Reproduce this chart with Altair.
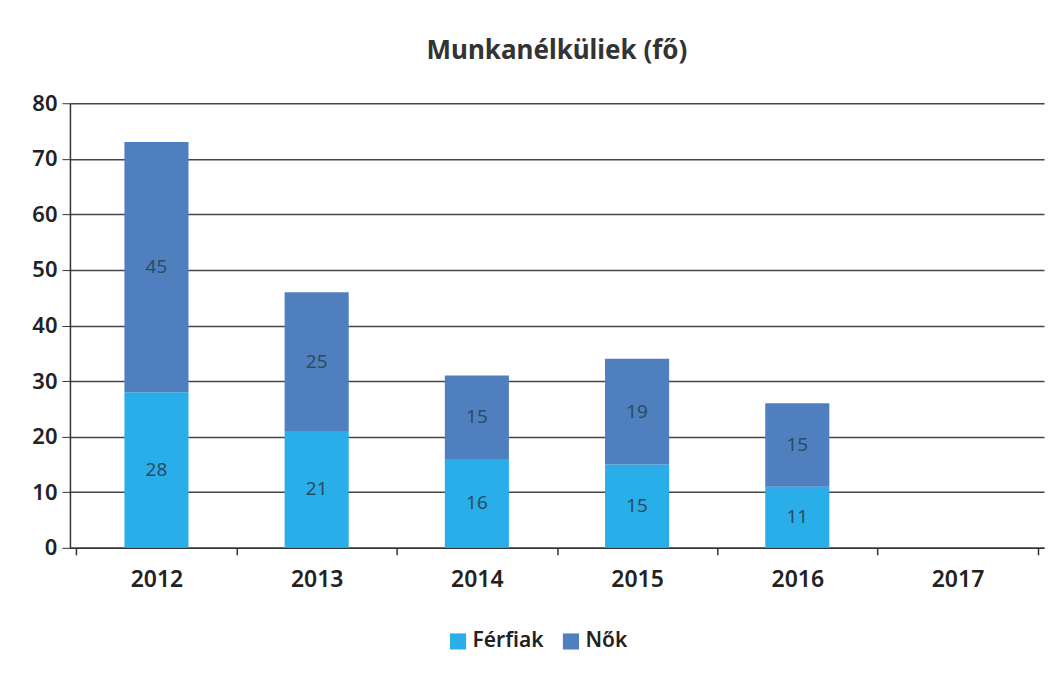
import altair as alt
import pandas as pd

years = ["2012", "2013", "2014", "2015", "2016", "2017"]
data_years = ["2012", "2013", "2014", "2015", "2016"]
ferfiak = [28, 21, 16, 15, 11]
nok = [45, 25, 15, 19, 15]
series = ["Férfiak", "Nők"]
colors = ["#29aee9", "#4f7fbf"]

rows = []
for y, f, n in zip(data_years, ferfiak, nok):
    rows.append({"ev": y, "nem": "Férfiak", "fo": f, "ord": 0})
    rows.append({"ev": y, "nem": "Nők", "fo": n, "ord": 1})
df = pd.DataFrame(rows)

FONT = "Noto Sans"

base = alt.Chart(df).transform_stack(
    stack="fo", groupby=["ev"], as_=["y0", "y1"], sort=[alt.SortField("ord", order="ascending")]
).transform_calculate(mid="(datum.y0 + datum.y1) / 2")

xscale = alt.Scale(domain=years, paddingInner=0, paddingOuter=0.04)
yscale = alt.Scale(domain=[0, 80])

xenc = alt.X("ev:N", scale=xscale,
             axis=alt.Axis(title=None, labelAngle=0, labelFontSize=23, labelColor="#222",
                           labelFont=FONT, labelFontWeight=600, labelPadding=14,
                           tickBand="extent", tickSize=7, tickWidth=1.5,
                           domainColor="#333", tickColor="#333", domainWidth=1.5))

bars = base.mark_bar(width=alt.RelativeBandSize(0.4)).encode(
    x=xenc,
    y=alt.Y("y0:Q", scale=yscale,
            axis=alt.Axis(title=None, values=list(range(0, 81, 10)), labelFontSize=22,
                          labelFont=FONT, labelFontWeight=600, labelColor="#222",
                          gridColor="#444", gridWidth=1.5,
                          domainColor="#333", tickColor="#333", tickSize=8, labelPadding=5,
                          domainWidth=1.5)),
    y2="y1:Q",
    color=alt.Color("nem:N", scale=alt.Scale(domain=series, range=colors),
                    legend=alt.Legend(title=None, orient="none", direction="horizontal",
                                      legendX=378, legendY=528, symbolType="square",
                                      symbolSize=260, symbolStrokeWidth=0, labelFontSize=21,
                                      labelFont=FONT, labelFontWeight=600, labelColor="#222",
                                      columnPadding=16, symbolOpacity=1)),
    order=alt.Order("ord:Q"),
)

labels = base.mark_text(fontSize=19, color="#2a4d62", font=FONT).encode(
    x=alt.X("ev:N", scale=xscale),
    y=alt.Y("mid:Q", scale=yscale),
    text=alt.Text("fo:Q"),
)

chart = alt.layer(bars, labels).properties(
    width=975, height=445,
    title=alt.TitleParams("Munkanélküliek (fő)", fontSize=26, font=FONT, fontWeight="bold",
                          color="#333", offset=28),
    autosize=alt.AutoSizeParams(type="none"),
    padding={"left": 62, "top": 95, "right": 10, "bottom": 120},
).configure_view(stroke=None).configure_axis(grid=False).configure_axisY(grid=True)

chart.save("out.html", embed_options={"renderer": "svg", "actions": False})
